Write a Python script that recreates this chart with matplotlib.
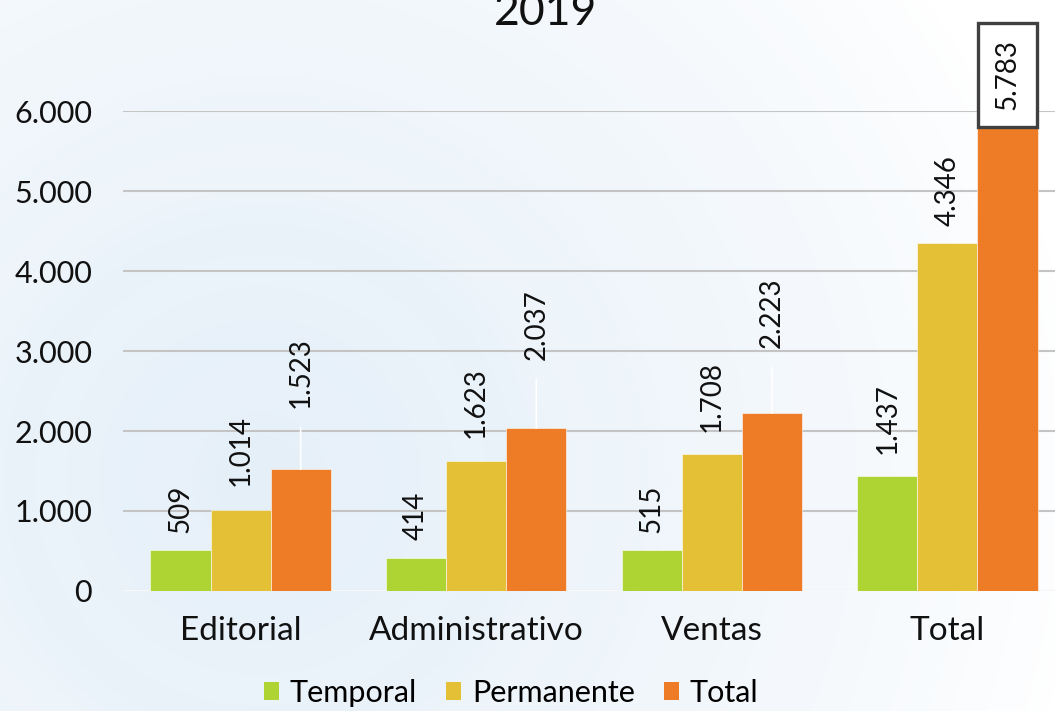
import numpy as np
import matplotlib
matplotlib.use("Agg")
import matplotlib.pyplot as plt
from matplotlib.patches import Patch
from matplotlib.ticker import FuncFormatter, FixedLocator

categories = ["Editorial", "Administrativo", "Ventas", "Total"]
series_names = ["Temporal", "Permanente", "Total"]
temporal = [509, 414, 515, 1437]
permanente = [1014, 1623, 1708, 4346]
total = [1523, 2037, 2223, 5783]
yticks = [0, 1000, 2000, 3000, 4000, 5000, 6000]
title = "2019"

colors = ["#aed434", "#e4c036", "#ee7b25"]
# label gaps above bar tops (pixels), per series / category
gaps = [[17, 18, 17, 22], [24, 23, 22, 17], [61, 68, 65, 18]]
leader = [[False] * 4, [False] * 4, [True, True, True, False]]

plt.rcParams['font.family'] = ['Lato', 'DejaVu Sans']
W, H = 1055, 711
fig = plt.figure(figsize=(W / 100, H / 100), dpi=100)

# background gradient
bg = fig.add_axes([0, 0, 1, 1], zorder=-10)
yy, xx = np.mgrid[0:H, 0:W]
d = np.sqrt(((xx - 260) / 1.0) ** 2 + ((yy - 480) / 1.0) ** 2)
w = np.clip(1 - d / 820, 0, 1) ** 0.75
rings = 0.04 * np.sin(d / 18.0) * w
w = np.clip(w + rings, 0, 1)
light = np.array([0.90, 0.94, 0.975])
img = np.ones((H, W, 3)) * (1 - w[..., None]) + light * w[..., None]
bg.imshow(img, extent=[0, W, H, 0], aspect='auto')
bg.axis('off')

left, right = 122.75, 1065.25
bottom_px, top_px = 591, 111
ax = fig.add_axes([left / W, (H - bottom_px) / H, (right - left) / W, (bottom_px - top_px) / H])
ax.set_facecolor('none')

x = np.arange(len(categories))
bw = 0.255
data = [temporal, permanente, total]
for i, (vals, c) in enumerate(zip(data, colors)):
    ax.bar(x + (i - 1) * bw, vals, width=bw, color=c, edgecolor='#ffffff', linewidth=0.4, zorder=3,
           label=series_names[i])

ax.set_xlim(-0.5, len(categories) - 0.5)
ax.set_ylim(0, 6000)
ax.yaxis.set_major_locator(FixedLocator(yticks))
ax.yaxis.set_major_formatter(FuncFormatter(lambda v, p: f"{int(v):,}".replace(",", ".")))
ax.grid(axis='y', color='#c4c4c4', linewidth=1.5, zorder=0)
ax.axhline(0, color='white', linewidth=2, zorder=2)
for s in ax.spines.values():
    s.set_visible(False)
ax.tick_params(axis='y', length=0, pad=22, labelsize=22, labelcolor='#111111')
ax.tick_params(axis='x', length=0, pad=18, labelsize=24, labelcolor='#111111')
ax.set_xticks(x)
ax.set_xticklabels(categories)

px = 0.72
for i, vals in enumerate(data):
    for j, v in enumerate(vals):
        xpos = x[j] + (i - 1) * bw
        label = f"{v:,}".replace(",", ".")
        boxed = (i == 2 and j == 3)
        kw = {}
        if leader[i][j]:
            kw['arrowprops'] = dict(arrowstyle='-', color='white', lw=1.2, shrinkA=12, shrinkB=0,
                                    relpos=(0.5, 0.0))
        if boxed:
            kw['bbox'] = dict(boxstyle='square,pad=0.6', fc='white', ec='#404040', lw=2.4)
        ax.annotate(label, xy=(xpos, v), xytext=(0, gaps[i][j] * px), textcoords='offset points',
                    ha='center', va='bottom', rotation=90, fontsize=20, color='#111111',
                    annotation_clip=False, zorder=5, **kw)

handles = [Patch(facecolor=c, edgecolor='none') for c in colors]
fig.legend(handles, series_names, loc='center', bbox_to_anchor=(511 / W, 1 - 693 / H),
           ncol=3, frameon=False, fontsize=22, handlelength=0.5, handleheight=0.5,
           handletextpad=0.35, columnspacing=0.95)

fig.text(545 / W, 1 - 25 / H, title, ha='center', va='baseline', fontsize=32, color='#111111')

fig.savefig('out.png', dpi=100)
